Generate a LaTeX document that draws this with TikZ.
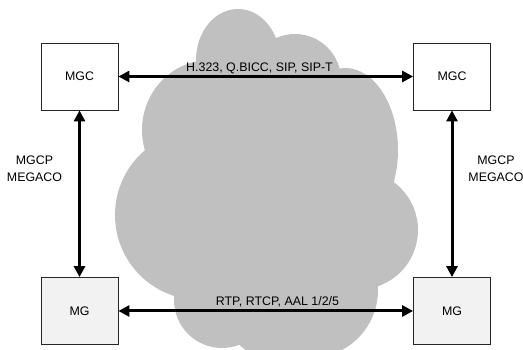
\documentclass[tikz,border=0pt]{standalone}
\usepackage{fontspec}
\setmainfont{Liberation Sans}
\usetikzlibrary{arrows.meta}
\definecolor{cloudgray}{HTML}{C0C0C0}
\definecolor{mgfill}{HTML}{F2F2F2}
\begin{document}
\begin{tikzpicture}[x=1pt,y=-1pt,
  box/.style={draw=black!85, line width=0.8pt, minimum width=77pt, minimum height=67pt, inner sep=0pt, font=\fontsize{12.4}{14}\selectfont},
  link/.style={line width=3pt, {Triangle[length=11pt,width=11pt]}-{Triangle[length=11pt,width=11pt]}},
  lbl/.style={font=\fontsize{12.4}{17}\selectfont, inner sep=0pt, align=center}]
\useasboundingbox (0,0) rectangle (523,350);
% cloud
\begin{scope}
\clip (0,0) rectangle (523,350);
\fill[cloudgray] (238,60) ellipse [x radius=42, y radius=51];
\fill[cloudgray] (295,80) circle [radius=46];
\fill[cloudgray] (345,150) ellipse [x radius=53, y radius=82];
\fill[cloudgray] (358.5,230) circle [radius=59.5];
\fill[cloudgray] (310,290) circle [radius=68];
\fill[cloudgray] (264,320) circle [radius=35];
\fill[cloudgray] (222,300) circle [radius=48];
\fill[cloudgray] (200,215) circle [radius=85];
\fill[cloudgray] (210,130) ellipse [x radius=68, y radius=70];
\fill[cloudgray] (270,200) ellipse [x radius=100, y radius=120];
\end{scope}
% boxes
\node[box, fill=white] (mgcL) at (79.5,76.5) {MGC};
\node[box, fill=white] (mgcR) at (452,76.5) {MGC};
\node[box, fill=mgfill] (mgL) at (79.5,311) {MG};
\node[box, fill=mgfill] (mgR) at (452,311) {MG};
% connectors
\draw[link] (mgcL.east) -- (mgcR.west);
\draw[link] (mgL.east) -- (mgR.west);
\draw[link] (mgcL.south) -- (mgL.north);
\draw[link] (mgcR.south) -- (mgR.north);
% labels
\node[lbl, anchor=base] (sig) at (259.5,72) {H.323, Q.BICC, SIP, SIP-T};
\node[lbl, anchor=base] (media) at (277.5,306) {RTP, RTCP, AAL 1/2/5};
\node[lbl, anchor=base] (ctlL) at (34.5,181.5) {MGCP\\MEGACO};
\node[lbl, anchor=base] (ctlR) at (496,181.5) {MGCP\\MEGACO};
\end{tikzpicture}
\end{document}
